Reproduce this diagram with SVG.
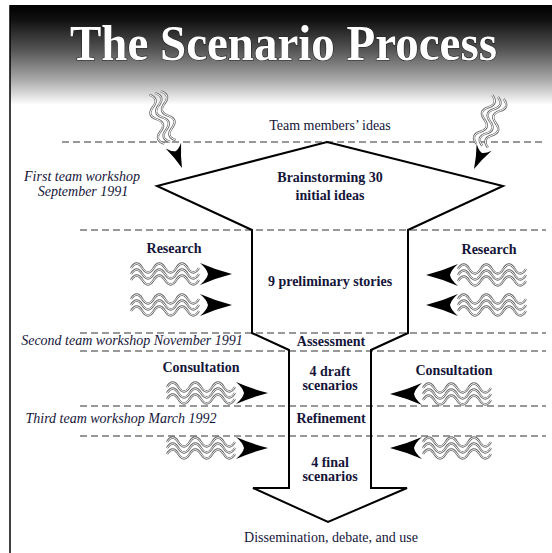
<svg xmlns="http://www.w3.org/2000/svg" xmlns:xlink="http://www.w3.org/1999/xlink" width="552" height="553" viewBox="0 0 552 553">
<style>
.t{font-family:"Liberation Serif","Times New Roman",serif;fill:#15153a;font-size:14px;text-anchor:middle}
.b{font-weight:bold}
.it{font-style:italic}
.dash{stroke:#333;stroke-width:1.2;stroke-dasharray:7 4;fill:none}
.wo{fill:none;stroke:#666;stroke-width:2.3}
.wi{fill:none;stroke:#fff;stroke-width:0.9}
.dart{fill:#000}
.funnel{fill:none;stroke:#000;stroke-width:2;stroke-linejoin:miter}
</style>
<defs>
<linearGradient id="hdr" x1="0" y1="0" x2="0" y2="1">
<stop offset="0" stop-color="#000"/>
<stop offset="0.15" stop-color="#111"/>
<stop offset="0.45" stop-color="#555"/>
<stop offset="0.75" stop-color="#aaa"/>
<stop offset="0.9" stop-color="#ddd"/>
<stop offset="1" stop-color="#fff"/>
</linearGradient>
<path id="wv" d="M0,0 q5.67,-9 11.33,0 t11.33,0 t11.33,0 t11.33,0 t11.33,0 t11.33,0"/>
<path id="wv2" d="M0,0 q6.4,-9 12.8,0 t12.8,0 t12.8,0 t12.8,0"/>
<g id="wb"><use xlink:href="#wv" y="-6"/><use xlink:href="#wv"/><use xlink:href="#wv" y="6"/></g>
<g id="wb2"><use xlink:href="#wv2" y="-6"/><use xlink:href="#wv2"/><use xlink:href="#wv2" y="6"/></g>
<g id="bundle"><use xlink:href="#wb" class="wo"/><use xlink:href="#wb" class="wi"/></g>
<g id="bundle2"><use xlink:href="#wb2" class="wo"/><use xlink:href="#wb2" class="wi"/></g>
<path id="dart" d="M0,0 Q-16,-4 -32,-11 Q-25,-5 -24,0 Q-25,5 -32,11 Q-16,4 0,0 Z"/>
</defs>

<g id="header">
<rect x="10" y="5" width="542" height="100" fill="url(#hdr)"/>
<text x="283.5" y="60" font-family="Liberation Serif,serif" font-weight="bold" font-size="50" fill="#fff" stroke="#222" stroke-width="1.2" paint-order="stroke" text-anchor="middle" textLength="427" lengthAdjust="spacingAndGlyphs">The Scenario Process</text>
</g>
<line x1="10" y1="5" x2="10" y2="553" stroke="#000" stroke-width="1.5"/>

<g id="dashes">
<line class="dash" x1="62" y1="142" x2="546" y2="142"/>
<line class="dash" x1="80" y1="230" x2="546" y2="230"/>
<line class="dash" x1="80" y1="333" x2="546" y2="333"/>
<line class="dash" x1="80" y1="351" x2="546" y2="351"/>
<line class="dash" x1="80" y1="406" x2="546" y2="406"/>
<line class="dash" x1="80" y1="436" x2="546" y2="436"/>
</g>

<g id="funnel">
<polygon class="funnel" points="327,142 503,186 408,230 408,333 371,350 371,488 407,488 328,522 253,488 289,488 289,350 252,333 252,230 157,186"/>
</g>

<g id="connectors">
<g transform="translate(155,93) rotate(73)"><use xlink:href="#bundle2"/></g>
<use xlink:href="#dart" class="dart" transform="translate(182,168) rotate(69) scale(0.75)"/>
<g transform="translate(498,97) rotate(108)"><use xlink:href="#bundle2"/></g>
<use xlink:href="#dart" class="dart" transform="translate(474,169) rotate(115) scale(0.75)"/>

<use xlink:href="#bundle" x="131" y="274"/>
<use xlink:href="#bundle" x="131" y="305"/>
<use xlink:href="#dart" class="dart" transform="translate(232,274)"/>
<use xlink:href="#dart" class="dart" transform="translate(232,305)"/>

<use xlink:href="#bundle" x="458" y="275"/>
<use xlink:href="#bundle" x="458" y="305"/>
<use xlink:href="#dart" class="dart" transform="translate(426,275) rotate(180)"/>
<use xlink:href="#dart" class="dart" transform="translate(426,305) rotate(180)"/>

<use xlink:href="#bundle" x="167" y="393"/>
<use xlink:href="#dart" class="dart" transform="translate(268,393)"/>
<use xlink:href="#bundle" x="423" y="394"/>
<use xlink:href="#dart" class="dart" transform="translate(390,394) rotate(180)"/>

<use xlink:href="#bundle" x="167" y="448"/>
<use xlink:href="#dart" class="dart" transform="translate(268,448)"/>
<use xlink:href="#bundle" x="423" y="448"/>
<use xlink:href="#dart" class="dart" transform="translate(390,448) rotate(180)"/>
</g>

<g id="labels">
<text class="t" x="330" y="130" font-size="16">Team members’ ideas</text>
<text class="t it" x="82" y="181">First team workshop</text>
<text class="t it" x="83" y="196">September 1991</text>
<text class="t it" x="132" y="345">Second team workshop November 1991</text>
<text class="t it" x="121" y="423">Third team workshop March 1992</text>
</g>

<g id="node-brainstorm"><text class="t b" x="330" y="182">Brainstorming 30</text><text class="t b" x="330" y="200">initial ideas</text></g>
<g id="node-research-left"><text class="t b" x="174" y="253">Research</text></g>
<g id="node-research-right"><text class="t b" x="489" y="254">Research</text></g>
<g id="node-stories"><text class="t b" x="330" y="286">9 preliminary stories</text></g>
<g id="node-assessment"><text class="t b" x="331" y="346">Assessment</text></g>
<g id="node-draft"><text class="t b" x="330" y="376">4 draft</text><text class="t b" x="330" y="390">scenarios</text></g>
<g id="node-consult-left"><text class="t b" x="201" y="372">Consultation</text></g>
<g id="node-consult-right"><text class="t b" x="454" y="375">Consultation</text></g>
<g id="node-refinement"><text class="t b" x="331" y="423">Refinement</text></g>
<g id="node-final"><text class="t b" x="330" y="467">4 final</text><text class="t b" x="330" y="481">scenarios</text></g>
<g id="node-dissemination"><text class="t" x="331" y="542" font-size="15">Dissemination, debate, and use</text></g>
</svg>
